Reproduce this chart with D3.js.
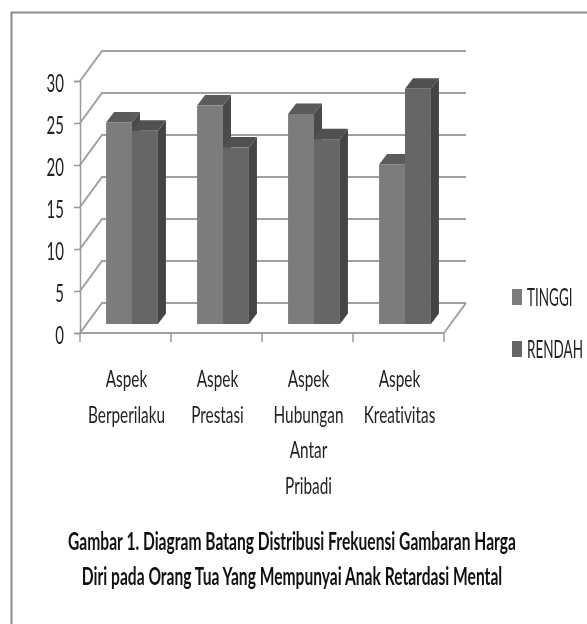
<!DOCTYPE html>
<html>
<head>
<meta charset="utf-8">
<script src="https://cdnjs.cloudflare.com/ajax/libs/d3/7.8.5/d3.min.js"></script>
<style>
html, body { margin: 0; padding: 0; background: #fff; overflow: hidden; }
svg { display: block; filter: blur(0.45px); }
text { font-family: Lato, "Open Sans", sans-serif; fill: #222; font-variant-ligatures: none; }
</style>
</head>
<body>
<div id="chart"></div>
<script>
const categories = [
    ["Aspek", "Berperilaku"],
    ["Aspek", "Prestasi"],
    ["Aspek", "Hubungan", "Antar", "Pribadi"],
    ["Aspek", "Kreativitas"]
];
const seriesNames = ["TINGGI", "RENDAH"];
const tinggi = [24, 26, 25, 19];
const rendah = [23, 21, 22, 28];
const yTicks = [0, 5, 10, 15, 20, 25, 30];
const caption = [
    "Gambar 1. Diagram Batang Distribusi Frekuensi Gambaran Harga",
    "Diri pada Orang Tua Yang Mempunyai Anak Retardasi Mental"
];

const width = 587, height = 624;
const plot = { left: 80, right: 444, zero: 333, top: 81 };
// kedalaman 3D: dinding belakang dan batang
const wall = { dx: 22, dy: -30 };
const barBase = { dx: 6.5, dy: -9 };
const barDepth = { dx: 8, dy: -10.5 };

const colors = {
    TINGGI: { front: "#7c7c7c", top: "#5b5b5b", side: "#4a4a4a" },
    RENDAH: { front: "#666666", top: "#505050", side: "#444444" }
};

const svg = d3.select("#chart").append("svg")
    .attr("width", width)
    .attr("height", height);

// bingkai: hanya sisi atas dan kiri yang terlihat
svg.append("path")
    .attr("d", `M11.5,${height}V12.5H${width}`)
    .attr("fill", "none")
    .attr("stroke", "#8c8c8c")
    .attr("stroke-width", 2);

const x = d3.scaleBand()
    .domain(d3.range(categories.length))
    .range([plot.left, plot.right])
    .paddingInner(0.43)
    .paddingOuter(0.215);

const xInner = d3.scaleBand()
    .domain(seriesNames)
    .range([0, x.bandwidth()]);

const y = d3.scaleLinear()
    .domain([0, 30])
    .range([plot.zero, plot.top]);

// lantai, garis bantu dan sisi kiri
const grid = svg.append("g")
    .attr("fill", "none")
    .attr("stroke", "#a0a0a0")
    .attr("stroke-width", 2);

grid.selectAll(".back")
    .data(yTicks)
    .enter().append("path")
    .attr("d", d => `M${plot.left},${y(d)}L${plot.left + wall.dx},${y(d) + wall.dy}L${plot.right + wall.dx},${y(d) + wall.dy}`);

grid.append("path")
    .attr("d", `M${plot.right},${plot.zero}L${plot.right + wall.dx},${plot.zero + wall.dy}`);

// sumbu
const axisY = svg.append("g")
    .attr("transform", `translate(${plot.left},0)`)
    .call(d3.axisLeft(y).tickValues(yTicks).tickSize(6).tickFormat(""));
axisY.select(".domain").attr("stroke", "#9a9a9a").attr("stroke-width", 1.5);
axisY.selectAll("line").attr("stroke", "#9a9a9a").attr("stroke-width", 1.5);

svg.append("g").selectAll("text")
    .data(yTicks)
    .enter().append("text")
    .attr("transform", d => `translate(64,${y(d) + 10.5}) scale(0.6,1)`)
    .attr("text-anchor", "end")
    .style("font-size", "25px")
    .text(d => d);

const tickXs = d3.range(categories.length + 1).map(i => plot.left + i * x.step());
const axisX = svg.append("g");
axisX.append("line")
    .attr("x1", plot.left).attr("x2", plot.right)
    .attr("y1", plot.zero).attr("y2", plot.zero)
    .attr("stroke", "#a0a0a0").attr("stroke-width", 2);
axisX.selectAll(".tick")
    .data(tickXs)
    .enter().append("line")
    .attr("x1", d => d).attr("x2", d => d)
    .attr("y1", plot.zero).attr("y2", plot.zero + 9)
    .attr("stroke", "#9a9a9a").attr("stroke-width", 1.5);

// batang 3D
const bars = [];
categories.forEach((c, i) => {
    bars.push({ i, name: "TINGGI", value: tinggi[i] });
    bars.push({ i, name: "RENDAH", value: rendah[i] });
});

const barX = d => x(d.i) + xInner(d.name) + barBase.dx;
const barY = d => y(d.value) + barBase.dy;
const baseY = y(0) + barBase.dy;
const w = xInner.bandwidth();

const barG = svg.append("g").selectAll("g")
    .data(bars)
    .enter().append("g");

barG.append("path")
    .attr("fill", d => colors[d.name].top)
    .attr("d", d => `M${barX(d)},${barY(d)}l${barDepth.dx},${barDepth.dy}h${w}l${-barDepth.dx},${-barDepth.dy}Z`);
barG.append("path")
    .attr("fill", d => colors[d.name].side)
    .attr("d", d => `M${barX(d) + w},${barY(d)}l${barDepth.dx},${barDepth.dy}V${baseY + barDepth.dy}l${-barDepth.dx},${-barDepth.dy}Z`);
barG.append("rect")
    .attr("fill", d => colors[d.name].front)
    .attr("x", barX)
    .attr("y", barY)
    .attr("width", w)
    .attr("height", d => baseY - barY(d));

// label kategori
const labelLines = [];
categories.forEach((c, i) => c.forEach((t, j) => labelLines.push({ t, i, j })));
svg.append("g").selectAll("text")
    .data(labelLines)
    .enter().append("text")
    .attr("transform", d => `translate(${plot.left + (d.i + 0.5) * x.step() + 1},${387 + d.j * 35.5}) scale(0.64,1)`)
    .attr("text-anchor", "middle")
    .style("font-size", "24px")
    .text(d => d.t);

// legenda
const legend = svg.append("g").selectAll("g")
    .data(seriesNames)
    .enter().append("g")
    .attr("transform", (d, i) => `translate(512,${289 + i * 52})`);
legend.append("rect")
    .attr("width", 10).attr("height", 16)
    .attr("fill", d => colors[d].front);
legend.append("text")
    .attr("transform", "translate(15,16.5) scale(0.54,1)")
    .style("font-size", "25px")
    .text(d => d);

// keterangan gambar
svg.append("g").selectAll("text")
    .data(caption)
    .enter().append("text")
    .attr("transform", (d, i) => `translate(292,${550 + i * 35}) scale(0.65,1)`)
    .attr("text-anchor", "middle")
    .style("font-size", "24px")
    .style("font-weight", "bold")
    .style("fill", "#111")
    .text(d => d);
</script>
</body>
</html>
